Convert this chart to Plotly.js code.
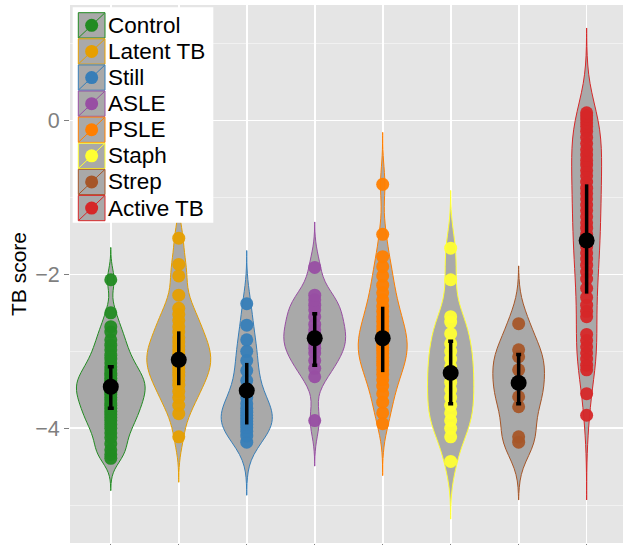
<!DOCTYPE html>
<html><head><meta charset="utf-8">
<script src="https://cdn.plot.ly/plotly-3.0.1.min.js"></script>
<style>html,body{margin:0;padding:0;background:#fff}</style>
</head><body><div id="chart" style="width:623px;height:545px"></div>
<script>
// ---- data ----
const groups = ["Control","Latent TB","Still","ASLE","PSLE","Staph","Strep","Active TB"];
const control = [-2.07,-2.50,-2.68,-2.75,-2.85,-2.92,-2.98,-3.05,-3.10,-3.15,-3.20,-3.24,-3.28,-3.31,-3.35,-3.38,-3.41,-3.44,-3.47,-3.50,-3.53,-3.56,-3.60,-3.63,-3.67,-3.70,-3.74,-3.78,-3.82,-3.86,-3.90,-3.95,-4.00,-4.06,-4.12,-4.20,-4.28,-4.34,-4.39];
const latentTB = [-1.53,-1.87,-2.02,-2.27,-2.44,-2.52,-2.60,-2.68,-2.75,-2.82,-2.88,-2.93,-2.98,-3.03,-3.08,-3.12,-3.17,-3.22,-3.27,-3.32,-3.38,-3.44,-3.52,-3.60,-3.70,-3.81,-4.11];
const still = [-2.38,-2.66,-2.85,-3.00,-3.12,-3.25,-3.38,-3.50,-3.60,-3.68,-3.74,-3.79,-3.83,-3.87,-3.91,-3.95,-3.99,-4.04,-4.10,-4.18];
const asle = [-1.91,-2.27,-2.33,-2.40,-2.46,-2.55,-2.65,-2.72,-2.78,-2.84,-2.90,-2.96,-3.02,-3.12,-3.22,-3.33,-3.90];
const psle = [-0.83,-1.48,-1.77,-1.90,-2.02,-2.14,-2.24,-2.33,-2.41,-2.48,-2.55,-2.61,-2.67,-2.72,-2.77,-2.82,-2.87,-2.91,-2.95,-2.99,-3.03,-3.08,-3.13,-3.18,-3.24,-3.30,-3.37,-3.45,-3.55,-3.66,-3.80,-3.94];
const staph = [-1.66,-2.07,-2.55,-2.62,-2.77,-2.90,-3.00,-3.10,-3.20,-3.30,-3.40,-3.50,-3.60,-3.70,-3.80,-3.90,-4.00,-4.11,-4.43];
const strep = [-2.64,-2.98,-3.07,-3.24,-3.42,-3.59,-3.72,-4.11,-4.18];
const activeTB = [0.10,0.06,0.02,-0.03,-0.08,-0.14,-0.22,-0.30,-0.38,-0.45,-0.52,-0.58,-0.65,-0.72,-0.80,-0.88,-0.95,-1.02,-1.10,-1.17,-1.25,-1.33,-1.40,-1.48,-1.56,-1.64,-1.72,-1.80,-1.88,-1.97,-2.06,-2.18,-2.30,-2.40,-2.48,-2.55,-2.78,-2.86,-2.94,-3.02,-3.10,-3.18,-3.24,-3.55,-3.83];
const means = [-3.46,-3.11,-3.51,-2.83,-2.83,-3.28,-3.41,-1.56];
const errLow = [-3.74,-3.44,-3.95,-3.18,-3.27,-3.68,-3.68,-2.25];
const errHigh = [-3.20,-2.74,-3.15,-2.51,-2.42,-2.87,-3.04,-0.83];
const bandwidths = [0.14,0.197,0.23,0.197,0.225,0.25,0.25,0.367];
const yTickVals = [-4,-2,0];

// ---- styles ----
const colors = ["#228B22","#E69F00","#377EB8","#984EA3","#FF7F00","#FFFF33","#A65628","#D62728"];
const violinWidths = [1.01,0.94,0.75,0.91,0.72,0.68,0.76,0.44];
const capWidths = [3,0,0,2.5,0,2.5,2.5,0];
const groupValues = [control, latentTB, still, asle, psle, staph, strep, activeTB];

const traces = [];
groupValues.forEach((vals, i) => {
  const bw = bandwidths[i];
  traces.push({
    type: 'violin',
    x: vals.map(() => i + 1),
    y: vals,
    name: groups[i],
    showlegend: false,
    bandwidth: bw,
    spanmode: 'manual',
    span: [Math.min(...vals) - 3 * bw, Math.max(...vals) + 3 * bw],
    scalemode: 'width',
    width: violinWidths[i],
    fillcolor: '#A9A9A9',
    line: {color: colors[i], width: 1},
    points: 'all',
    jitter: 0,
    pointpos: 0,
    marker: {size: 13, color: colors[i], opacity: 0.95, line: {width: 0}},
    hoverinfo: 'skip'
  });
});
groups.forEach((g, i) => {
  traces.push({
    type: 'scatter', mode: 'markers',
    x: [i + 1], y: [means[i]],
    showlegend: false,
    marker: {size: 16, color: '#000'},
    error_y: {type: 'data', symmetric: false,
      array: [errHigh[i] - means[i]], arrayminus: [means[i] - errLow[i]],
      color: '#000', thickness: 3.5, width: capWidths[i]},
    hoverinfo: 'skip'
  });
});

// ---- manual ggplot-style legend ----
const plotL = 70, plotT = 5, plotW = 553, plotH = 538;
const legPx = {x: 72.7, y: 7.3};
const legX = (legPx.x - plotL) / plotW;
const legY = 1 - (legPx.y - plotT) / plotH;
const keyTop = 5.4, keyStep = 26.1, keyH = 25.3, keyX0 = 5.6, keyX1 = 32.3;
const shapes = [{
  type: 'rect', xref: 'paper', yref: 'paper', xsizemode: 'pixel', ysizemode: 'pixel',
  xanchor: legX, yanchor: legY, x0: 0, x1: 140.6, y0: 0, y1: -215.4,
  fillcolor: '#FFFFFF', line: {width: 0}, layer: 'above'
}];
const annotations = [];
groups.forEach((g, i) => {
  const top = keyTop + i * keyStep, bot = top + keyH, mid = (top + bot) / 2, cx = (keyX0 + keyX1) / 2;
  const base = {xref: 'paper', yref: 'paper', xsizemode: 'pixel', ysizemode: 'pixel', xanchor: legX, yanchor: legY, layer: 'above'};
  shapes.push(Object.assign({}, base, {type: 'rect', x0: keyX0, x1: keyX1, y0: -top, y1: -bot, fillcolor: '#A9A9A9', line: {color: colors[i], width: 1}}));
  shapes.push(Object.assign({}, base, {type: 'line', x0: keyX0 + 0.5, x1: keyX1 - 0.5, y0: -bot + 0.5, y1: -top - 0.5, line: {color: colors[i], width: 1}}));
  shapes.push(Object.assign({}, base, {type: 'circle', x0: cx - 6.5, x1: cx + 6.5, y0: -mid - 6.5, y1: -mid + 6.5, fillcolor: colors[i], line: {width: 0}}));
  annotations.push({xref: 'paper', yref: 'paper', x: legX, y: legY, xanchor: 'left', yanchor: 'middle',
    xshift: 33, yshift: -mid, showarrow: false, text: g,
    font: {family: 'Liberation Sans, Arial, sans-serif', size: 22.5, color: '#000'}});
});

const layout = {
  width: 623, height: 545,
  margin: {l: plotL, r: 0, t: plotT, b: 545 - plotT - plotH, pad: 0},
  paper_bgcolor: '#FFFFFF', plot_bgcolor: '#E5E5E5',
  font: {family: 'Liberation Sans, Arial, sans-serif'},
  showlegend: false,
  violinmode: 'overlay',
  xaxis: {range: [0.4, 8.535], tickvals: [1,2,3,4,5,6,7,8], showticklabels: false,
    ticks: 'outside', ticklen: 4, tickcolor: '#7F7F7F', tickwidth: 1,
    showgrid: true, gridcolor: '#FFFFFF', gridwidth: 1.7, zeroline: false, showline: false},
  yaxis: {range: [-5.49, 1.50], tickvals: yTickVals,
    ticks: 'outside', ticklen: 5, tickcolor: '#7F7F7F', tickwidth: 1,
    tickfont: {size: 21.5, color: '#7F7F7F'},
    showgrid: true, gridcolor: '#FFFFFF', gridwidth: 1.7, zeroline: false, showline: false,
    minor: {tickvals: [-5,-3,-1,1], showgrid: true, gridcolor: '#F2F2F2', gridwidth: 0.9, ticks: ''},
    title: {text: 'TB score', font: {size: 21, color: '#000'}, standoff: 2}},
  shapes: shapes,
  annotations: annotations
};
Plotly.newPlot('chart', traces, layout, {displayModeBar: false, staticPlot: true});
</script></body></html>
